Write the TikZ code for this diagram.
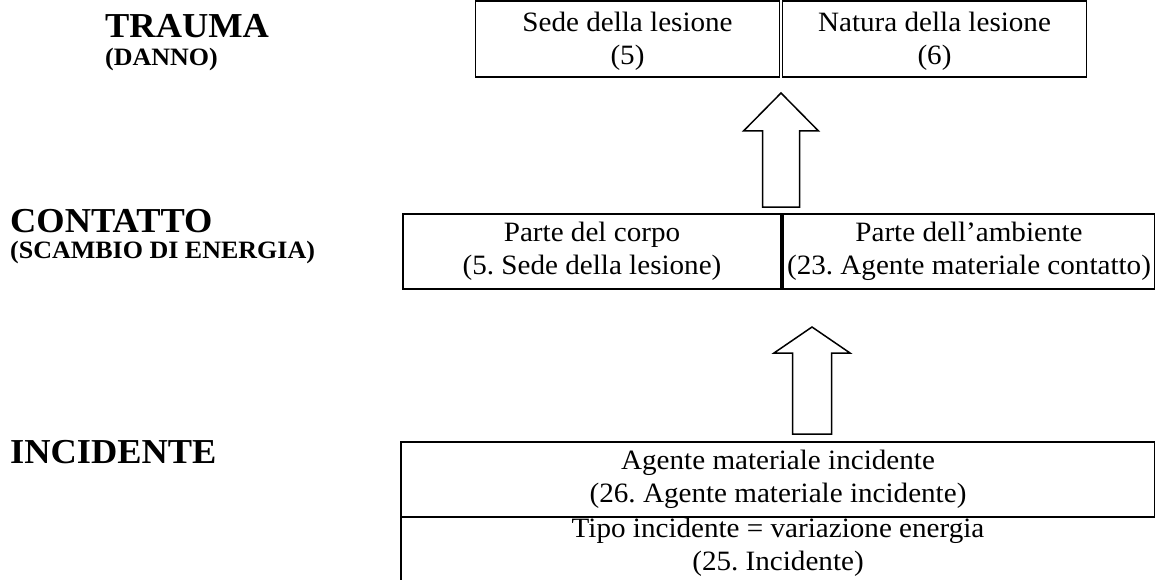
\documentclass[tikz,border=0pt]{standalone}
\usepackage{fontspec}
\setmainfont{Liberation Serif}[FakeStretch=1.04]
\frenchspacing
\begin{document}
\begin{tikzpicture}[x=1pt,y=-1pt,
  box/.style={draw, line width=1.5pt, inner sep=0pt, outer sep=0pt, align=center, font=\fontsize{28}{33}\selectfont},
  lbl/.style={anchor=base west, inner sep=0pt, font=\bfseries\fontsize{35}{40}\selectfont},
  sublbl/.style={anchor=base west, inner sep=0pt, font=\bfseries\fontsize{25}{28}\selectfont},
  bigarrow/.style={draw, line width=1.5pt, line join=miter}]
\useasboundingbox (0,0) rectangle (1155,580);
% level labels
\node[lbl] (trauma) at (105,38) {TRAUMA};
\node[sublbl] (danno) at (105,66) {(DANNO)};
\node[lbl] (contatto) at (10,232) {CONTATTO};
\node[sublbl] (scambio) at (10,258) {(SCAMBIO DI ENERGIA)};
\node[lbl] (incidente) at (10,463) {INCIDENTE};
% top boxes
\node[box, minimum width=304pt, minimum height=76pt] (sede) at (627.5,39) {\rule{0pt}{23pt}Sede della lesione\\(5)};
\node[box, minimum width=304pt, minimum height=76pt] (natura) at (934.5,39) {\rule{0pt}{23pt}Natura della lesione\\(6)};
% middle boxes
\node[box, minimum width=378pt, minimum height=75pt] (corpo) at (592,251.5) {Parte del corpo\\(5. Sede della lesione)};
\node[box, minimum width=372pt, minimum height=75pt] (ambiente) at (969,251.5) {Parte dell’ambiente\\(23. Agente materiale contatto)};
% bottom boxes
\node[box, minimum width=754pt, minimum height=75pt] (agente) at (778,479.5) {Agente materiale incidente\\(26. Agente materiale incidente)};
\node[box, draw=none, anchor=north, minimum width=754pt] (tipo) at (778,518.5) {Tipo incidente = variazione energia\\(25. Incidente)};
\coordinate (bottomleft) at (401,585);
\draw[line width=1.5pt] (agente.south west) -- (bottomleft);
% block arrows
\draw[bigarrow] (781,93) -- (818.5,131) -- (799.5,131) -- (799.5,207) -- (762.5,207) -- (762.5,131) -- (743.5,131) -- cycle;
\draw[bigarrow] (812,327) -- (850,353) -- (831.5,353) -- (831.5,434) -- (792.5,434) -- (792.5,353) -- (774,353) -- cycle;
\end{tikzpicture}
\end{document}
